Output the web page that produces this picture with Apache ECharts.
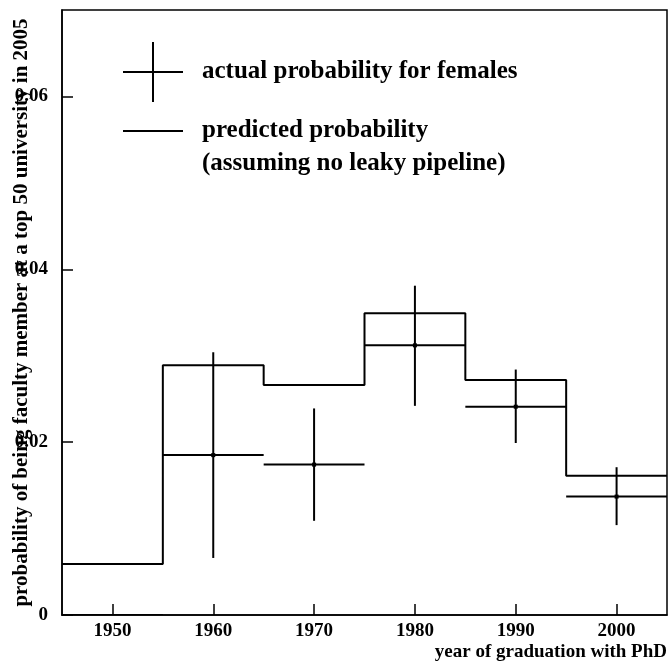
<!DOCTYPE html>
<html>
<head>
<meta charset="utf-8">
<script src="https://cdn.jsdelivr.net/npm/echarts@6/dist/echarts.min.js"></script>
<style>html,body{margin:0;padding:0;background:#fff;}#chart{width:670px;height:665px;}</style>
</head>
<body>
<div id="chart"></div>
<script>
// ---- data ----
const years = [1950, 1960, 1970, 1980, 1990, 2000];           // bin centres
const predicted = [0.0059, 0.0289, 0.0266, 0.0349, 0.0272, 0.0161];
const actual = [0, 0.0185, 0.0174, 0.0312, 0.0241, 0.0137];
const actualLow = [0, 0.0066, 0.0109, 0.0242, 0.0199, 0.0104];
const actualHigh = [0, 0.0304, 0.0239, 0.0381, 0.0284, 0.0171];
const xTicks = [1950, 1960, 1970, 1980, 1990, 2000];
const yTicks = [0, 0.02, 0.04, 0.06];
const binWidth = 10;
const actualName = 'actual probability for females';
const predictedName = 'predicted probability';
const predictedNote = '(assuming no leaky pipeline)';

const FONT = "'Liberation Serif','Times New Roman',serif";
const half = binWidth / 2;

const predData = years.map((y, i) => [y - half, predicted[i]]);
predData.push([years[years.length - 1] + half, predicted[predicted.length - 1]]);
const actData = years.map((y, i) => [y, actual[i], actualLow[i], actualHigh[i]]);

const chart = echarts.init(document.getElementById('chart'), null, {renderer: 'canvas'});
chart.setOption({
  animation: false,
  backgroundColor: '#fff',
  grid: {left: 62, top: 10, width: 605, height: 605, show: true, borderColor: '#000', borderWidth: 1.5, outerBoundsMode: 'none', containLabel: false},
  legend: [{
    data: [{name: actualName, icon: 'path://M0,29H60V31H0Z M29,0H31V60H29Z'}],
    left: 123, top: 42, padding: 0, itemWidth: 60, itemHeight: 60, selectedMode: false,
    textStyle: {fontFamily: FONT, fontWeight: 'bold', fontSize: 25, color: '#000', padding: [0, 0, 0, 14]}
  }, {
    data: [{name: predictedName, icon: 'rect'}],
    left: 123, top: 81.5, padding: 0, itemWidth: 60, itemHeight: 2, selectedMode: false,
    formatter: (n) => '\n' + n + '\n' + predictedNote,
    textStyle: {fontFamily: FONT, fontWeight: 'bold', fontSize: 25, lineHeight: 33, color: '#000', padding: [0, 0, 0, 14]}
  }],
  xAxis: {
    type: 'value', min: 1945, max: 2005,
    name: 'year of graduation with PhD', nameLocation: 'end', nameGap: 0, nameMoveOverlap: false,
    nameTextStyle: {fontFamily: FONT, fontWeight: 'bold', fontSize: 19, color: '#000', align: 'right', verticalAlign: 'top', padding: [28, 0, 0, 0]},
    axisLine: {show: true, onZero: false, lineStyle: {color: '#000', width: 1.5}},
    axisTick: {show: true, inside: true, length: 11, customValues: xTicks, lineStyle: {color: '#000', width: 1.5}},
    axisLabel: {customValues: xTicks, margin: 7, fontFamily: FONT, fontWeight: 'bold', fontSize: 19, color: '#000',
      formatter: (v) => String(v)},
    splitLine: {show: false}
  },
  yAxis: {
    type: 'value', min: 0, max: 0.07,
    name: 'probability of being faculty member at a top 50 university in 2005',
    nameLocation: 'middle', nameGap: 30, nameMoveOverlap: false,
    nameTextStyle: {fontFamily: FONT, fontWeight: 'bold', fontSize: 21, color: '#000'},
    axisLine: {show: true, onZero: false, lineStyle: {color: '#000', width: 1.5}},
    axisTick: {show: true, inside: true, length: 11, customValues: yTicks, lineStyle: {color: '#000', width: 1.5}},
    axisLabel: {customValues: yTicks, margin: 14, fontFamily: FONT, fontWeight: 'bold', fontSize: 19, color: '#000',
      formatter: (v) => v === 0 ? '0' : String(+v.toFixed(2))},
    splitLine: {show: false}
  },
  series: [{
    name: predictedName,
    type: 'line', step: 'end', data: predData, showSymbol: false, symbol: 'none',
    itemStyle: {color: '#000'},
    lineStyle: {color: '#000', width: 2}, clip: true, z: 3
  }, {
    name: actualName,
    type: 'custom', data: actData, clip: true, z: 4,
    itemStyle: {color: '#000'},
    renderItem: function (params, api) {
      const x = api.value(0), v = api.value(1), lo = api.value(2), hi = api.value(3);
      const l = api.coord([x - half, v]);
      const r = api.coord([x + half, v]);
      const c = api.coord([x, v]);
      const t = api.coord([x, hi]);
      const b = api.coord([x, lo]);
      const children = [
        {type: 'line', shape: {x1: l[0], y1: l[1], x2: r[0], y2: r[1]}, style: {stroke: '#000', lineWidth: 2}}
      ];
      if (hi > lo) {
        children.push({type: 'line', shape: {x1: t[0], y1: t[1], x2: b[0], y2: b[1]}, style: {stroke: '#000', lineWidth: 2}});
        children.push({type: 'rect', shape: {x: c[0] - 2, y: c[1] - 2, width: 4, height: 4}, style: {fill: '#000'}});
      }
      return {type: 'group', children: children};
    }
  }]
});
</script>
</body>
</html>
